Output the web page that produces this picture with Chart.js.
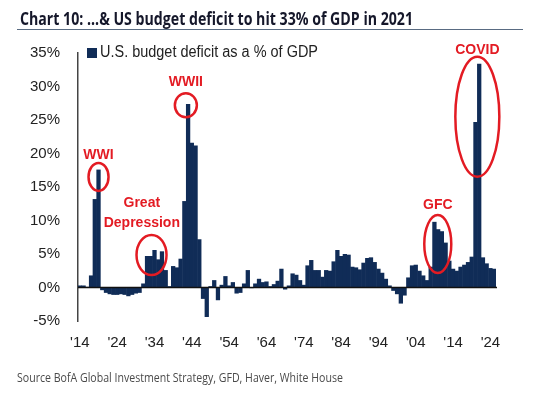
<!DOCTYPE html>
<html>
<head>
<meta charset="utf-8">
<script src="https://cdn.jsdelivr.net/npm/chart.js@4.4.1/dist/chart.umd.min.js"></script>
<style>
  body { margin: 0; background: #fff; }
  #wrap { position: relative; width: 533px; height: 396px; overflow: hidden; }
  #title { position: absolute; left: 20px; top: 10px; font: bold 17px "Open Sans", Lato, sans-serif; line-height: 1; color: #15172a; white-space: nowrap; transform-origin: 0 0; }
  #rule { position: absolute; left: 17px; top: 29px; width: 506px; border-top: 1px solid #596b82; }
  #source { position: absolute; left: 17px; top: 372px; font: 12.5px "Open Sans", sans-serif; line-height: 1; color: #4a4a4a; white-space: nowrap; transform-origin: 0 0; }
  canvas { position: absolute; left: 0; top: 0; }
</style>
</head>
<body>
<div id="wrap">
  <canvas id="c" width="533" height="396"></canvas>
  <div id="title">Chart 10: ...&amp; US budget deficit to hit 33% of GDP in 2021</div>
  <div id="rule"></div>
  <div id="source">Source BofA Global Investment Strategy, GFD, Haver, White House</div>
</div>
<script>
// fiscal years shown on the x axis
var firstYear = 1914;
var years = [];
for (var y = firstYear; y <= 2025; y++) years.push(y);

// US budget deficit as % of GDP (positive = deficit), one value per year
var deficit = [
  0.3, 0.3, 0.1, 1.8, 13.2, 17.6, -0.4, -0.8, -1.0, -1.1,     // 1914-1923
  -1.1, -1.0, -1.1, -1.3, -1.1, -0.9, -0.8, 0.6, 4.7, 4.7,    // 1924-1933
  5.6, 4.2, 5.4, 2.6, 0.2, 3.2, 3.0, 4.3, 12.9, 27.4,         // 1934-1943
  21.6, 21.2, 7.2, -1.7, -4.4, 0.2, 1.1, -1.9, 0.4, 1.7,      // 1944-1953
  0.3, 0.8, -0.9, -0.8, 0.6, 2.6, -0.1, 0.6, 1.3, 0.8,        // 1954-1963
  0.9, 0.2, 0.5, 1.0, 2.8, -0.3, 0.3, 2.1, 1.9, 1.1,          // 1964-1973
  0.4, 3.3, 4.1, 2.6, 2.6, 1.6, 2.6, 2.5, 3.9, 5.6,           // 1974-1983
  4.7, 5.0, 4.9, 3.1, 3.0, 2.7, 3.7, 4.4, 4.5, 3.8,           // 1984-1993
  2.8, 2.2, 1.3, 0.3, -0.5, -1.0, -2.4, -1.2, 1.5, 3.3,       // 1994-2003
  3.4, 2.5, 1.8, 1.1, 3.1, 9.8, 8.7, 8.4, 6.7, 4.0,           // 2004-2013
  2.8, 2.5, 3.1, 3.4, 3.8, 4.6, 24.7, 33.4, 4.5, 3.6,         // 2014-2023
  2.9, 2.8                                                    // 2024-2025
];

var xTickYears = [1914, 1924, 1934, 1944, 1954, 1964, 1974, 1984, 1994, 2004, 2014, 2024];
var xTickLabels = ["'14", "'24", "'34", "'44", "'54", "'64", "'74", "'84", "'94", "'04", "'14", "'24"];
var yMin = -5, yMax = 35, yStep = 5;

var seriesName = 'U.S. budget deficit as a % of GDP';
var navy = '#102c57';
var red = '#e31b23';
var tickFont = '"Liberation Sans", Arial, sans-serif';

// callouts: text position and ellipse centre in (year, %) terms
var notes = [
  { text: ['WWI'], tx: 1919, ty: 19.8, ex: 1919, ey: 16.5, rx: 10, ry: 14 },
  { text: ['WWII'], tx: 1942.4, ty: 30.7, ex: 1942.4, ey: 27.2, rx: 11, ry: 12 },
  { text: ['Great', 'Depression'], tx: 1930.6, ty: 12.6, ex: 1933.2, ey: 4.85, rx: 15, ry: 20 },
  { text: ['GFC'], tx: 2009.9, ty: 12.3, ex: 2009.9, ey: 6.5, rx: 13.5, ry: 29 },
  { text: ['COVID'], tx: 2020.5, ty: 35.4, ex: 2020.5, ey: 25.5, rx: 22, ry: 60 }
];

var extras = {
  id: 'extras',
  afterDatasetsDraw: function (chart) {
    var c = chart.ctx, xs = chart.scales.x, ys = chart.scales.y, a = chart.chartArea;
    c.save();
    // zero line over the bars
    var y0 = ys.getPixelForValue(0);
    c.strokeStyle = '#111';
    c.lineWidth = 1.5;
    c.beginPath(); c.moveTo(a.left, y0); c.lineTo(a.right + 1, y0); c.stroke();

    // red callouts
    c.strokeStyle = red;
    c.fillStyle = red;
    c.lineWidth = 2.5;
    c.font = 'bold 14px ' + tickFont;
    c.textAlign = 'center';
    c.textBaseline = 'middle';
    notes.forEach(function (n) {
      var ex = xs.getPixelForValue(n.ex - firstYear), ey = ys.getPixelForValue(n.ey);
      c.beginPath(); c.ellipse(ex, ey, n.rx, n.ry, 0, 0, Math.PI * 2); c.stroke();
      var tx = xs.getPixelForValue(n.tx - firstYear), ty = ys.getPixelForValue(n.ty);
      n.text.forEach(function (t, k) { c.fillText(t, tx, ty + k * 20); });
    });

    // legend
    c.fillStyle = navy;
    c.fillRect(a.left + 9, a.top - 5, 10, 10);
    c.fillStyle = '#222';
    c.font = '16px ' + tickFont;
    c.textAlign = 'left';
    c.fillText(seriesName, a.left + 22, a.top, 218);
    c.restore();
  }
};

new Chart(document.getElementById('c').getContext('2d'), {
  type: 'bar',
  data: {
    labels: years,
    datasets: [{
      label: seriesName,
      data: deficit,
      backgroundColor: navy,
      borderWidth: 0,
      barPercentage: 1.15,
      categoryPercentage: 1
    }]
  },
  options: {
    responsive: false,
    animation: false,
    layout: { padding: { top: 53, right: 37, bottom: 0, left: 0 } },
    plugins: { legend: { display: false }, tooltip: { enabled: false } },
    scales: {
      x: {
        grid: { display: false, drawTicks: false },
        border: { display: false },
        ticks: {
          autoSkip: false, maxRotation: 0, minRotation: 0, padding: 13,
          color: '#222', font: { family: tickFont, size: 15 },
          callback: function (v, i) {
            var k = xTickYears.indexOf(years[i]);
            return k < 0 ? '' : xTickLabels[k];
          }
        },
        afterFit: function (s) { s.height = 75; }
      },
      y: {
        min: yMin, max: yMax,
        grid: { display: false, drawTicks: false },
        border: { display: true, color: '#444', width: 1.5 },
        ticks: {
          stepSize: yStep, padding: 18,
          color: '#222', font: { family: tickFont, size: 15 },
          callback: function (v) { return v + '%'; }
        },
        afterFit: function (s) { s.width = 78; }
      }
    }
  },
  plugins: [extras]
});

function fitWidth(id, w) {
  var el = document.getElementById(id);
  el.style.transform = 'scaleX(' + (w / el.offsetWidth) + ')';
}
fitWidth('title', 393);
fitWidth('source', 326);
</script>
</body>
</html>
